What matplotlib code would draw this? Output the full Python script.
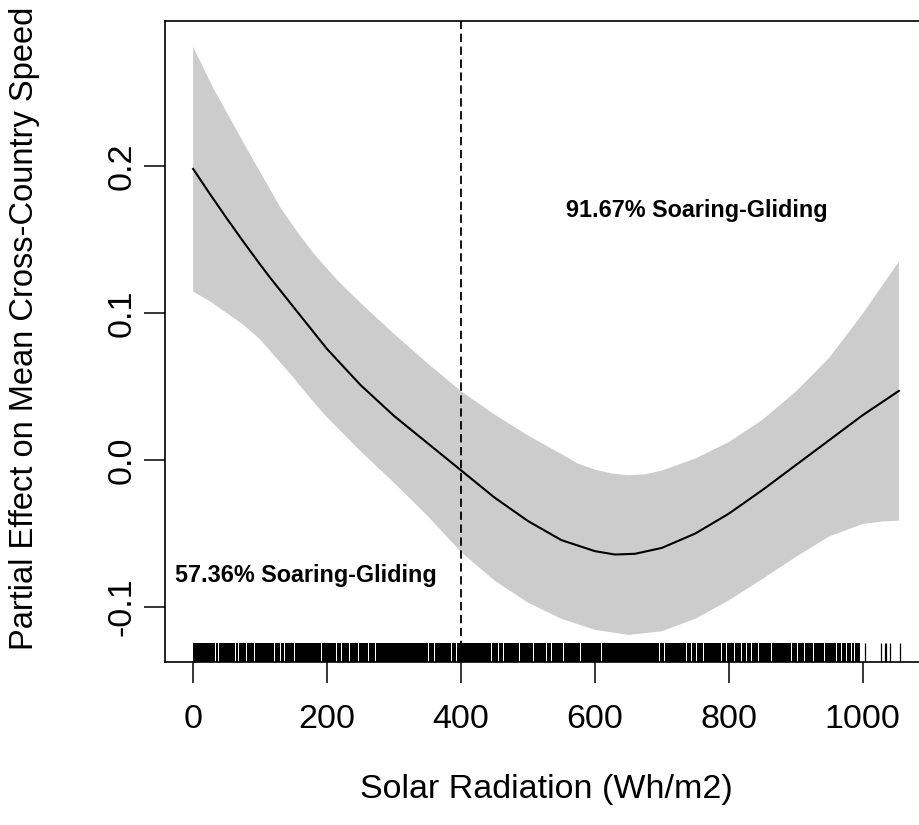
import numpy as np
import matplotlib
matplotlib.use("Agg")
import matplotlib.pyplot as plt

# ---------------- data ----------------
fit_x = [0, 25, 50, 75, 100, 115, 150, 200, 250, 300, 350, 400, 450, 500, 550, 600, 630, 660, 700,
         750, 800, 850, 900, 950, 1000, 1054]
fit_y = [0.198, 0.181, 0.1645, 0.1485, 0.133, 0.124, 0.104, 0.0755, 0.051, 0.030, 0.0115, -0.007,
         -0.0255, -0.0415, -0.0545, -0.062, -0.0643, -0.0638, -0.0598, -0.050, -0.0365, -0.0205,
         -0.0035, 0.0135, 0.0305, 0.047]

upper_x = [0, 30, 55, 80, 105, 130, 155, 180, 215, 250, 300, 350, 400, 450, 500, 550, 575, 600, 625,
           650, 675, 700, 750, 800, 850, 900, 950, 1000, 1054]
upper_y = [0.281, 0.253, 0.2325, 0.212, 0.192, 0.172, 0.1555, 0.1405, 0.1225, 0.1068, 0.0858, 0.0658,
           0.0468, 0.031, 0.0167, 0.004, -0.0025, -0.0065, -0.0092, -0.0104, -0.0097, -0.0072, 0.001,
           0.0122, 0.0272, 0.0465, 0.0695, 0.0995, 0.135]

lower_x = [0, 25, 50, 75, 100, 125, 150, 175, 200, 250, 300, 350, 400, 450, 500, 550, 600, 650, 700,
           750, 800, 850, 900, 950, 1000, 1030, 1054]
lower_y = [0.1146, 0.108, 0.100, 0.092, 0.082, 0.069, 0.056, 0.042, 0.029, 0.006, -0.0155, -0.038,
           -0.0625, -0.082, -0.097, -0.108, -0.1155, -0.119, -0.1165, -0.108, -0.0955, -0.081, -0.066,
           -0.052, -0.0435, -0.0418, -0.0413]

# rug: dense observations from rug_start to rug_end, except at the gaps; plus isolated values
rug_start, rug_end = 0, 996
rug_gaps = [33, 38, 63, 68, 80, 91.5, 121, 130, 137, 152, 192, 198.5, 204.5, 214.5, 222, 234, 247,
            262, 272, 282, 351, 361, 386, 393.5, 446, 456, 463, 488, 495.5, 508, 528, 535, 553, 578,
            610, 627, 642, 657, 697, 704.5, 724, 737, 744, 752, 762, 789, 796.5, 809, 819, 826, 834,
            844, 864, 881, 893.5, 903, 913, 926, 943, 961, 968, 976, 983, 988, 993]
rug_isolated = [1003, 1028, 1033, 1035, 1040, 1056]

threshold = 400
xticks = [0, 200, 400, 600, 800, 1000]
yticks = [-0.1, 0.0, 0.1, 0.2]
ytick_labels = ["-0.1", "0.0", "0.1", "0.2"]
annot_left = "57.36% Soaring-Gliding"
annot_right = "91.67% Soaring-Gliding"
xlabel = "Solar Radiation (Wh/m2)"
ylabel = "Partial Effect on Mean Cross-Country Speed"

# ---------------- figure ----------------
plt.rcParams['font.family'] = ['Liberation Sans', 'DejaVu Sans']
plt.rcParams['lines.scale_dashes'] = False

W, H = 920, 825
fig = plt.figure(figsize=(W / 100, H / 100), dpi=100)
ax_left, ax_right, ax_top, ax_bottom = 165, 927, 21, 662
ax = fig.add_axes([ax_left / W, 1 - ax_bottom / H, (ax_right - ax_left) / W, (ax_bottom - ax_top) / H])

ax.set_xlim(-42, 1096)
ax.set_ylim(-0.1374, 0.2986)

# confidence band
ux = np.array(upper_x, float); uy = np.array(upper_y, float)
lx = np.array(lower_x, float); ly = np.array(lower_y, float)
poly_x = np.concatenate([ux, lx[::-1]])
poly_y = np.concatenate([uy, ly[::-1]])
ax.fill(poly_x, poly_y, color='#cccccc', lw=0, zorder=1)

# fitted smooth
ax.plot(fit_x, fit_y, color='black', lw=1.5, zorder=3, solid_joinstyle='round')

# threshold
ax.axvline(threshold, color='black', lw=1.3, dashes=(6, 3.3), zorder=4)

# rug
edges = [rug_start] + [v for g in rug_gaps for v in (g - 0.6, g + 0.6)] + [rug_end]
segs = [(edges[i], edges[i + 1] - edges[i]) for i in range(0, len(edges), 2)]
ax.broken_barh(segs, (0, 0.03), facecolors='black', edgecolor='none',
               transform=ax.get_xaxis_transform(), zorder=2)
ax.vlines(rug_isolated, 0, 0.03, colors='black', lw=0.9, transform=ax.get_xaxis_transform(), zorder=2)

# annotations
ax.text(169, -0.0786, annot_left, ha='center', va='center', fontsize=16.8, fontweight='bold')
ax.text(752, 0.1697, annot_right, ha='center', va='center', fontsize=16.8, fontweight='bold')

# axes styling (R base style)
for s in ax.spines.values():
    s.set_linewidth(1.2)
ax.set_xticks(xticks)
ax.set_xticklabels([str(v) for v in xticks])
ax.set_yticks(yticks)
ax.set_yticklabels(ytick_labels, rotation=90, va='center')
ax.tick_params(direction='out', length=15, width=1.1, labelsize=24.5, pad=15)
ax.tick_params(axis='y', pad=5)

ax.set_xlabel(xlabel, fontsize=24.5)
ax.xaxis.set_label_coords(0.5, -0.175)
ax.set_ylabel(ylabel, fontsize=23.5)
ax.yaxis.set_label_coords(-0.164, 0.521)

fig.savefig("out.png", dpi=100)
